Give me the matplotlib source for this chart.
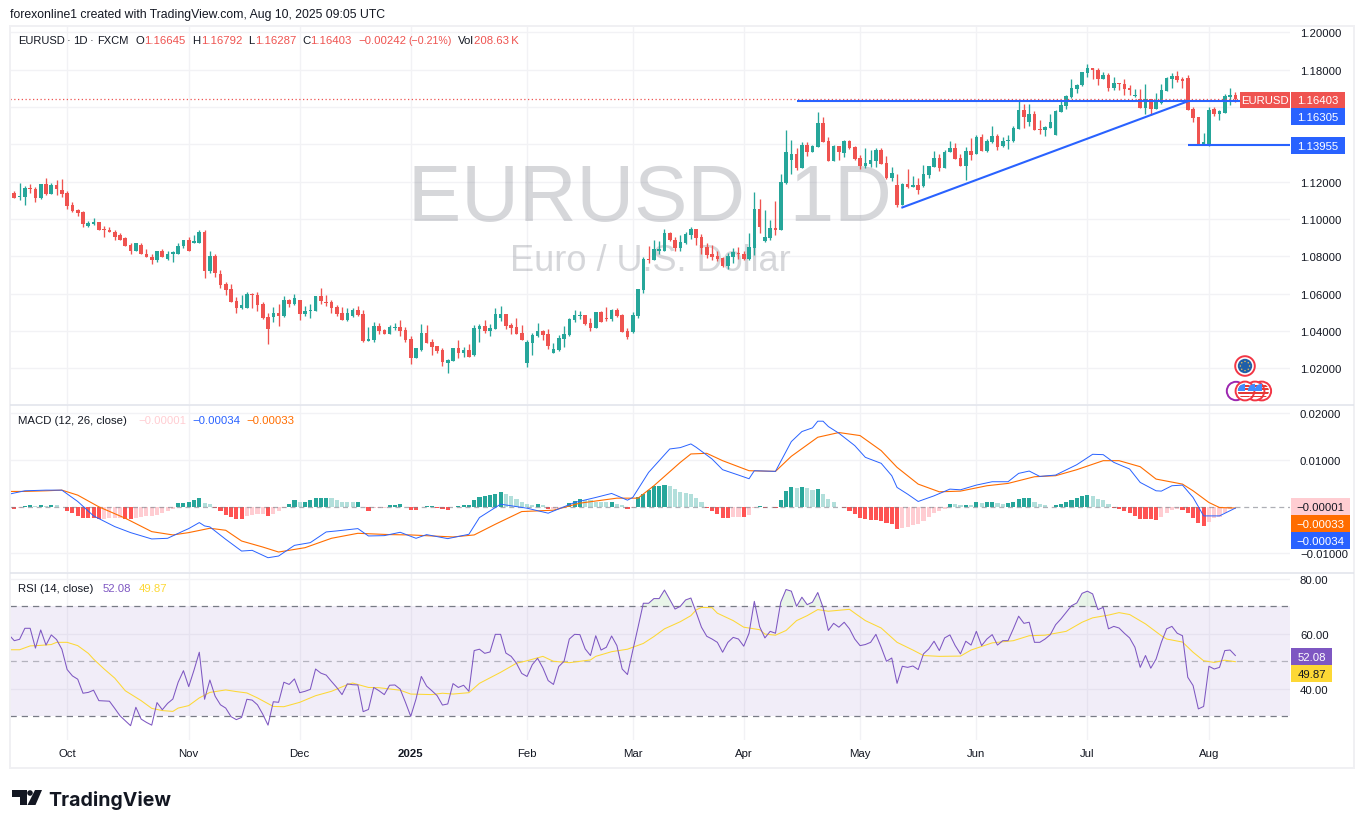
import numpy as np
import matplotlib
matplotlib.use("Agg")
import matplotlib.pyplot as plt
from matplotlib.patches import Rectangle, Circle, Polygon

# EURUSD daily, one value per bar
opens = [
 1.1075,1.1137,1.1116,1.1116,1.1164,1.1159,1.1111,1.1186,1.1132,1.1180,1.1154,1.1137,1.1073,1.1046,1.1035,1.0960,1.0971,1.0982,1.0944,1.0939,
 1.0933,1.0912,1.0896,1.0863,1.0826,1.0863,1.0815,1.0799,1.0778,1.0831,1.0788,1.0810,1.0815,1.0853,1.0885,1.0874,1.0874,1.0933,1.0724,1.0804,
 1.0708,1.0654,1.0627,1.0563,1.0525,1.0525,1.0600,1.0595,1.0547,1.0477,1.0477,1.0498,1.0482,1.0568,1.0547,1.0568,1.0493,1.0509,1.0509,1.0590,
 1.0557,1.0557,1.0531,1.0498,1.0461,1.0482,1.0514,1.0493,1.0348,1.0353,1.0429,1.0407,1.0386,1.0416,1.0423,1.0407,1.0359,1.0257,1.0300,1.0391,
 1.0343,1.0321,1.0300,1.0230,1.0241,1.0310,1.0284,1.0300,1.0273,1.0412,1.0429,1.0402,1.0412,1.0471,1.0493,1.0434,1.0423,1.0391,1.0230,1.0337,
 1.0375,1.0402,1.0386,1.0284,1.0300,1.0359,1.0380,1.0461,1.0482,1.0488,1.0445,1.0418,1.0504,1.0471,1.0466,1.0514,1.0488,1.0402,1.0396,1.0482,
 1.0622,1.0788,1.0783,1.0831,1.0831,1.0923,1.0890,1.0845,1.0872,1.0915,1.0947,1.0904,1.0850,1.0813,1.0802,1.0791,1.0748,1.0797,1.0818,1.0813,
 1.0786,1.0845,1.1054,1.0882,1.0898,1.0952,1.0941,1.1194,1.1317,1.1349,1.1274,1.1398,1.1360,1.1387,1.1516,1.1419,1.1312,1.1393,1.1355,1.1419,
 1.1387,1.1328,1.1285,1.1296,1.1312,1.1371,1.1301,1.1221,1.1183,1.1076,1.1188,1.1172,1.1183,1.1178,1.1237,1.1280,1.1328,1.1274,1.1360,1.1382,
 1.1328,1.1285,1.1366,1.1349,1.1441,1.1366,1.1414,1.1446,1.1393,1.1419,1.1419,1.1484,1.1583,1.1519,1.1562,1.1481,1.1476,1.1487,1.1449,1.1573,
 1.1605,1.1653,1.1696,1.1718,1.1782,1.1809,1.1798,1.1750,1.1771,1.1702,1.1728,1.1723,1.1702,1.1659,1.1642,1.1594,1.1642,1.1589,1.1621,1.1685,
 1.1750,1.1766,1.1750,1.1755,1.1589,1.1546,1.1395,1.1401,1.1589,1.1562,1.1567,1.1653,1.16645]
highs = [
 1.1137,1.1148,1.1191,1.1179,1.1186,1.1170,1.1186,1.1218,1.1191,1.1207,1.1213,1.1148,1.1089,1.1051,1.1041,1.0992,1.1003,1.0982,1.0960,1.0955,
 1.0939,1.0923,1.0906,1.0874,1.0874,1.0874,1.0842,1.0810,1.0831,1.0842,1.0831,1.0831,1.0874,1.0890,1.0906,1.0917,1.0939,1.0939,1.0826,1.0810,
 1.0729,1.0665,1.0654,1.0584,1.0595,1.0611,1.0606,1.0611,1.0557,1.0498,1.0531,1.0547,1.0590,1.0573,1.0600,1.0568,1.0536,1.0547,1.0590,1.0633,
 1.0595,1.0568,1.0541,1.0531,1.0525,1.0525,1.0536,1.0514,1.0423,1.0450,1.0445,1.0412,1.0434,1.0445,1.0461,1.0423,1.0375,1.0310,1.0439,1.0434,
 1.0359,1.0321,1.0310,1.0251,1.0310,1.0353,1.0316,1.0332,1.0434,1.0439,1.0461,1.0439,1.0525,1.0536,1.0493,1.0445,1.0471,1.0434,1.0353,1.0391,
 1.0445,1.0407,1.0412,1.0337,1.0380,1.0429,1.0471,1.0514,1.0509,1.0488,1.0471,1.0504,1.0509,1.0531,1.0520,1.0525,1.0493,1.0418,1.0504,1.0627,
 1.0799,1.0858,1.0890,1.0880,1.0949,1.0933,1.0901,1.0915,1.0931,1.0958,1.0947,1.0920,1.0872,1.0861,1.0829,1.0797,1.0818,1.0845,1.0850,1.0829,
 1.0925,1.1145,1.1108,1.1049,1.0995,1.1097,1.1242,1.1478,1.1425,1.1382,1.1414,1.1414,1.1398,1.1575,1.1548,1.1441,1.1398,1.1393,1.1425,1.1425,
 1.1393,1.1344,1.1382,1.1371,1.1382,1.1382,1.1339,1.1280,1.1242,1.1194,1.1269,1.1231,1.1221,1.1290,1.1285,1.1366,1.1349,1.1371,1.1419,1.1409,
 1.1349,1.1387,1.1435,1.1451,1.1457,1.1430,1.1500,1.1457,1.1441,1.1451,1.1500,1.1634,1.1616,1.1616,1.1578,1.1530,1.1498,1.1562,1.1583,1.1637,
 1.1664,1.1750,1.1723,1.1787,1.1830,1.1809,1.1809,1.1787,1.1782,1.1761,1.1728,1.1750,1.1718,1.1696,1.1696,1.1723,1.1642,1.1675,1.1723,1.1761,
 1.1782,1.1793,1.1761,1.1771,1.1600,1.1546,1.1460,1.1600,1.1600,1.1583,1.1669,1.1702,1.16792]
lows = [
 1.1075,1.1111,1.1102,1.1075,1.1137,1.1089,1.1105,1.1127,1.1132,1.1127,1.1116,1.1051,1.1035,1.1014,1.0955,1.0955,1.0966,1.0939,1.0901,1.0928,
 1.0890,1.0885,1.0858,1.0815,1.0826,1.0810,1.0794,1.0761,1.0772,1.0794,1.0783,1.0772,1.0810,1.0847,1.0831,1.0874,1.0874,1.0686,1.0713,1.0692,
 1.0633,1.0595,1.0557,1.0498,1.0520,1.0525,1.0525,1.0509,1.0466,1.0332,1.0450,1.0429,1.0477,1.0531,1.0541,1.0461,1.0482,1.0471,1.0509,1.0547,
 1.0536,1.0498,1.0482,1.0461,1.0455,1.0477,1.0482,1.0343,1.0348,1.0343,1.0386,1.0386,1.0386,1.0407,1.0375,1.0343,1.0224,1.0257,1.0294,1.0337,
 1.0273,1.0284,1.0214,1.0176,1.0241,1.0257,1.0262,1.0262,1.0267,1.0343,1.0391,1.0375,1.0412,1.0455,1.0412,1.0386,1.0386,1.0353,1.0208,1.0273,
 1.0369,1.0353,1.0305,1.0284,1.0294,1.0316,1.0375,1.0450,1.0466,1.0434,1.0402,1.0418,1.0450,1.0455,1.0455,1.0477,1.0396,1.0359,1.0391,1.0471,
 1.0606,1.0767,1.0783,1.0810,1.0831,1.0880,1.0826,1.0829,1.0866,1.0893,1.0861,1.0813,1.0791,1.0780,1.0775,1.0743,1.0732,1.0764,1.0786,1.0780,
 1.0780,1.0807,1.0925,1.0877,1.0888,1.0915,1.0941,1.1188,1.1242,1.1264,1.1274,1.1339,1.1360,1.1387,1.1414,1.1312,1.1312,1.1317,1.1333,1.1376,
 1.1317,1.1269,1.1274,1.1280,1.1280,1.1296,1.1215,1.1205,1.1065,1.1076,1.1167,1.1172,1.1135,1.1172,1.1221,1.1280,1.1258,1.1274,1.1360,1.1323,
 1.1285,1.1210,1.1317,1.1349,1.1366,1.1360,1.1409,1.1371,1.1387,1.1376,1.1414,1.1484,1.1487,1.1498,1.1476,1.1455,1.1444,1.1487,1.1449,1.1573,
 1.1589,1.1648,1.1675,1.1712,1.1761,1.1750,1.1718,1.1750,1.1685,1.1691,1.1691,1.1664,1.1664,1.1653,1.1594,1.1562,1.1557,1.1589,1.1616,1.1685,
 1.1702,1.1734,1.1702,1.1583,1.1519,1.1395,1.1395,1.1390,1.1551,1.1530,1.1567,1.1610,1.16287]
closes = [
 1.1137,1.1111,1.1121,1.1164,1.1159,1.1111,1.1186,1.1132,1.1180,1.1159,1.1132,1.1068,1.1041,1.1030,1.0971,1.0976,1.0982,1.0939,1.0939,1.0933,
 1.0906,1.0890,1.0858,1.0826,1.0869,1.0810,1.0794,1.0778,1.0831,1.0794,1.0815,1.0821,1.0858,1.0885,1.0831,1.0880,1.0933,1.0724,1.0804,1.0713,
 1.0649,1.0622,1.0557,1.0525,1.0541,1.0600,1.0595,1.0541,1.0471,1.0412,1.0498,1.0482,1.0568,1.0547,1.0579,1.0493,1.0509,1.0514,1.0590,1.0563,
 1.0552,1.0525,1.0493,1.0461,1.0498,1.0514,1.0488,1.0348,1.0359,1.0429,1.0402,1.0386,1.0423,1.0421,1.0402,1.0353,1.0257,1.0310,1.0391,1.0337,
 1.0316,1.0294,1.0235,1.0246,1.0310,1.0284,1.0300,1.0262,1.0418,1.0429,1.0402,1.0418,1.0493,1.0493,1.0429,1.0418,1.0386,1.0353,1.0343,1.0380,
 1.0402,1.0380,1.0321,1.0305,1.0364,1.0386,1.0466,1.0488,1.0488,1.0439,1.0418,1.0504,1.0450,1.0466,1.0514,1.0482,1.0396,1.0369,1.0488,1.0627,
 1.0788,1.0783,1.0837,1.0837,1.0923,1.0885,1.0847,1.0877,1.0920,1.0947,1.0898,1.0845,1.0807,1.0797,1.0786,1.0748,1.0802,1.0823,1.0813,1.0786,
 1.0850,1.1054,1.0958,1.0904,1.0952,1.0941,1.1199,1.1360,1.1349,1.1274,1.1398,1.1360,1.1393,1.1516,1.1414,1.1312,1.1393,1.1360,1.1419,1.1382,
 1.1323,1.1285,1.1301,1.1317,1.1371,1.1296,1.1221,1.1247,1.1076,1.1188,1.1172,1.1183,1.1156,1.1242,1.1285,1.1328,1.1274,1.1360,1.1382,1.1323,
 1.1285,1.1366,1.1344,1.1441,1.1366,1.1419,1.1446,1.1387,1.1419,1.1425,1.1489,1.1586,1.1546,1.1562,1.1476,1.1476,1.1492,1.1519,1.1578,1.1610,
 1.1659,1.1702,1.1718,1.1787,1.1809,1.1798,1.1750,1.1771,1.1702,1.1728,1.1723,1.1696,1.1691,1.1664,1.1594,1.1642,1.1589,1.1626,1.1691,1.1755,
 1.1766,1.1745,1.1739,1.1583,1.1540,1.1401,1.1412,1.1583,1.1562,1.1578,1.1659,1.1664,1.16403]

# MACD histogram in units of 0.00001, one per bar
macd_hist = [
 -40,-43,-29,14,22,14,29,14,29,22,-14,-86,-143,-201,-237,-251,-252,-272,-258,-244,
 -244,-243,-258,-259,-244,-215,-201,-200,-179,-129,-100,-57,72,86,87,129,172,72,57,-36,
 -100,-172,-229,-272,-273,-194,-172,-171,-170,-201,-158,-100,-36,57,129,100,101,129,172,186,
 187,179,129,100,99,98,105,-14,-100,-29,-28,-22,22,43,44,-7,-72,-73,-7,14,
 15,-22,-57,-72,-14,14,29,43,143,201,215,237,272,301,265,215,158,100,57,43,
 57,36,-58,-57,-43,-22,86,122,158,143,142,100,99,98,100,50,29,-57,-22,201,
 258,358,430,445,452,430,373,320,287,258,179,100,-29,-86,-158,-237,-238,-215,-214,-215,
 -172,-36,14,-22,-7,-29,143,323,416,394,416,394,358,373,272,158,100,-14,-36,-86,
 -158,-237,-272,-287,-288,-301,-344,-373,-480,-459,-445,-394,-373,-301,-215,-143,-86,-43,57,56,
 22,43,29,100,86,100,101,72,57,65,100,158,172,173,100,57,22,-14,22,57,
 100,143,172,215,237,229,158,129,57,-22,-57,-100,-143,-194,-265,-272,-273,-287,-215,-143,
 -72,-43,-72,-129,-237,-358,-416,-323,-251,-215,-143,-57,-1]

macd_idx = [0,3,7,10,13,16,20,23,27,30,33,34,36,37,38,41,44,46,49,51,54,57,60,62,66,68,71,74,77,79,83,87,89,93,98,102,107,111,114,117,118,121,125,127,
 129,130,133,135,138,140,141,145,148,150,152,153,154,155,157,160,162,165,167,168,170,172,175,178,180,183,186,189,191,193,195,198,202,205,207,209,212,214,217,218,220,222,224,226,229,232]
macd_line = [.00265,.00337,.00351,.00351,.00108,-.00201,-.00430,-.00559,-.00695,-.00681,-.00523,-.00473,-.00344,-.00416,-.00437,-.00703,-.00954,-.00939,-.01097,-.01061,
 -.00832,-.00774,-.00545,-.00523,-.00473,-.00631,-.00624,-.00552,-.00681,-.00602,-.00688,-.00595,-.00237,.00050,-.00036,-.00143,.00086,.00194,.00280,.00136,.00194,.00731,.01233,.01262,
 .01341,.01269,.01018,.00789,.00674,.00595,.00767,.00753,.01391,.01606,.01685,.01828,.01828,.01714,.01570,.01305,.01054,.00925,.00660,.00409,.00265,.00108,.00229,.00373,.00358,.00459,
 .00531,.00531,.00710,.00760,.00645,.00674,.00896,.01119,.01111,.00946,.00803,.00516,.00337,.00330,.00445,.00459,.00194,-.00201,-.00201,-.00034]

signal_idx = [0,3,7,10,13,17,22,27,31,34,38,41,44,48,51,56,61,66,72,76,84,88,92,97,103,108,115,119,122,127,
 129,132,135,140,145,148,153,157,161,165,168,172,176,180,185,189,194,198,202,207,210,214,217,222,224,227,229,232]
signal_line = [.00323,.00323,.00337,.00351,.00244,-.00007,-.00251,-.00538,-.00609,-.00559,-.00466,-.00509,-.00739,-.00868,-.00975,-.00882,-.00681,-.00574,-.00602,-.00609,
 -.00652,-.00609,-.00380,-.00108,-.00079,.00072,.00179,.00179,.00445,.00946,
 .01126,.01140,.00982,.00767,.00753,.01076,.01484,.01585,.01520,.01197,.00839,.00480,.00315,.00330,.00445,.00495,.00638,.00660,.00789,.00982,.00982,.00853,.00588,.00480,.00337,.00086,-.00022,-.00033]

# RSI, one per bar
rsi = [
 59.6,57.5,58.0,62.0,62.0,54.8,61.4,55.9,59.6,57.9,54.4,47.0,44.7,43.5,38.4,38.7,39.5,35.7,35.6,35.5,
 32.9,30.2,28.4,26.6,33.3,29.0,27.8,26.8,35.0,32.4,34.7,36.3,42.4,46.6,40.8,46.8,53.3,36.2,43.2,37.3,
 34.2,33.0,29.9,28.8,29.6,36.2,35.9,34.2,30.8,26.8,35.3,35.1,42.4,41.6,43.6,38.6,39.1,39.8,47.2,45.7,
 45.0,42.7,40.5,37.9,41.8,41.5,41.4,31.7,32.5,40.5,39.3,37.9,41.3,41.4,39.9,35.1,30.0,36.3,44.5,41.0,
 39.3,37.5,34.1,34.5,41.9,40.5,41.3,39.1,53.9,54.4,52.9,53.4,59.8,59.8,53.0,51.8,49.3,45.6,44.5,48.8,
 51.1,47.6,43.0,41.6,48.1,50.0,58.1,59.8,59.7,54.5,52.1,59.3,54.1,55.1,59.2,55.7,47.2,45.2,53.9,62.4,
 71.1,71.1,72.8,72.8,75.9,72.5,69.0,70.0,72.3,73.0,67.8,62.4,59.1,58.1,56.9,53.3,56.9,58.7,58.1,55.5,
 60.2,71.8,62.6,58.5,60.9,60.2,71.5,76.1,75.5,70.0,73.3,70.6,71.5,75.0,69.6,61.2,63.8,62.4,64.2,61.8,
 58.1,55.7,56.1,56.9,59.8,55.1,50.0,51.2,42.0,48.2,47.8,48.3,47.0,52.7,54.5,57.3,53.9,58.5,59.6,55.7,
 52.7,57.3,55.9,60.9,55.7,58.1,59.7,55.9,57.5,57.5,61.8,66.4,63.8,64.2,56.9,56.9,58.1,59.7,63.3,65.4,
 67.8,70.2,71.2,74.7,75.5,74.5,68.8,69.6,61.8,62.7,62.1,60.2,58.5,55.1,47.8,52.1,47.5,50.8,56.9,61.8,
 62.7,60.2,59.3,44.2,41.2,32.7,33.6,48.2,47.2,47.8,53.9,54.1,52.1]

rsi_ma_idx = [0,2,4,6,8,9,11,13,15,16,18,20,22,25,27,29,31,32,34,36,38,41,43,45,47,50,52,55,58,61,64,65,68,70,74,76,80,82,84,87,89,93,96,98,101,103,106,110,111,114,117,120,122,124,127,
 129,130,131,133,134,137,139,142,143,145,147,149,151,153,155,159,160,162,165,168,171,173,176,180,182,186,190,193,196,200,203,205,208,210,212,215,218,219,222,224,226,228,230,232]
rsi_ma = [54.2,54.2,55.6,55.8,56.1,56.9,56.9,55.7,52.9,50.8,47.2,43.9,39.3,35.7,32.9,32.1,31.8,33.0,33.9,36.7,38.7,39.6,39.0,38.5,36.7,33.6,33.5,35.1,37.5,39.1,41.5,42.1,40.5,40.4,39.5,38.1,37.9,38.4,38.1,38.6,42.0,46.0,49.3,50.2,51.8,50.0,49.5,50.5,51.8,53.5,54.4,56.5,59.0,61.8,64.4,
 66.6,68.7,69.6,69.5,67.5,64.8,62.4,61.5,59.9,59.5,61.2,64.8,66.6,68.8,68.2,68.9,67.5,64.8,62.1,56.9,54.1,52.1,51.8,51.9,54.1,56.7,57.5,59.3,59.5,60.9,64.2,65.8,66.8,67.7,67.0,63.6,59.3,58.1,57.0,53.3,50.2,49.6,50.4,49.87]

month_idx = [11,34,55,76,98,118,139,161,183,204,227]
month_labels = ['Oct','Nov','Dec','2025','Feb','Mar','Apr','May','Jun','Jul','Aug']
price_ticks = [1.02,1.04,1.06,1.08,1.10,1.12,1.14,1.16,1.18,1.20]
# the price tags sit on top of these two in the original
price_tick_labels = ['1.02000','1.04000','1.06000','1.08000','1.10000','1.12000','','','1.18000','1.20000']
macd_ticks = [-0.01,0.01,0.02]
rsi_ticks = [40,60,80]

# drawn levels
level_upper = 1.16305
level_lower = 1.13955
level_upper_start = 149
level_lower_start = 223
trend_bars = [169,223]
trend_prices = [1.1062,1.16305]
last_price = 1.16403

W, H = 1364, 829
GREEN = '#26a69a'
RED = '#ef5350'
BLUE = '#2962ff'
ORANGE = '#ff6d00'
PURPLE = '#7e57c2'
YELLOW = '#fdd835'
GRID = '#f2f2f5'
DARK = '#131722'
plt.rcParams['font.family'] = ['Liberation Sans', 'DejaVu Sans']

fig = plt.figure(figsize=(W/100, H/100), dpi=100, facecolor='white')

def pane(left, top, right, bottom):
    ax = fig.add_axes([left/W, 1-bottom/H, (right-left)/W, (bottom-top)/H])
    for s in ax.spines.values():
        s.set_visible(False)
    ax.set_xlim((left-9.0)/5.286, (right-9.0)/5.286)
    ax.yaxis.tick_right()
    ax.tick_params(axis='y', length=0, labelsize=8.2, labelcolor=DARK, pad=7.2)
    ax.set_xticks(month_idx)
    ax.tick_params(axis='x', length=0, labelbottom=False)
    ax.grid(True, color=GRID, lw=1)
    ax.set_axisbelow(True)
    return ax

ax_p = pane(10, 27, 1290, 405)
ax_m = pane(10, 406, 1290, 573)
ax_r = pane(10, 574, 1290, 741)

# price pane
bars = np.arange(len(closes))
o = np.array(opens); h = np.array(highs); l = np.array(lows); c = np.array(closes)
colors = np.where(c >= o, GREEN, RED)
ax_p.set_ylim(1.0009, 1.2034)
ax_p.set_yticks(price_ticks)
ax_p.set_yticklabels(price_tick_labels)
wm_x = (650-9.0)/5.286
ax_p.text(wm_x, 1.0995, 'EURUSD  1D', fontsize=57.5, color='#787b86', alpha=0.3, ha='center', va='baseline', zorder=1.5)
ax_p.text(wm_x, 1.0727, 'Euro / U.S. Dollar', fontsize=26, color='#787b86', alpha=0.3, ha='center', va='baseline', zorder=1.5)
ax_p.vlines(bars, l, h, colors=colors, lw=0.95, zorder=3)
ax_p.bar(bars, c-o, bottom=o, width=0.68, color=colors, zorder=3.1, linewidth=0)
ax_p.hlines(last_price, ax_p.get_xlim()[0], (1240-9)/5.286, colors=RED, lw=0.9, linestyles=(0, (1, 2)), zorder=3.2)
ax_p.hlines(level_upper, level_upper_start, ax_p.get_xlim()[1], colors=BLUE, lw=1.5, zorder=3.3)
ax_p.hlines(level_lower, level_lower_start, ax_p.get_xlim()[1], colors=BLUE, lw=1.5, zorder=3.3)
ax_p.plot(trend_bars, trend_prices, color=BLUE, lw=1.5, zorder=3.3)

# MACD pane
hist = np.array(macd_hist)*1e-5
hist_colors = []
for i, v in enumerate(hist):
    prev = hist[i-1] if i else v
    if v >= 0:
        hist_colors.append('#26a69a' if v >= prev else '#b2dfdb')
    else:
        hist_colors.append('#ff5252' if v < prev else '#ffcdd2')
ax_m.set_ylim(-0.01403, 0.02175)
ax_m.set_yticks(macd_ticks)
ax_m.set_yticklabels(['\u22120.01000', '0.01000', '0.02000'])
ax_m.bar(bars, hist, width=0.78, color=hist_colors, linewidth=0, zorder=2)
ax_m.axhline(0, color='#787b86', lw=0.9, alpha=0.6, ls=(0, (4, 3)), zorder=2.5)
ax_m.plot(signal_idx, signal_line, color=ORANGE, lw=0.8, zorder=3)
ax_m.plot(macd_idx, macd_line, color=BLUE, lw=0.7, zorder=3.1)

# RSI pane
rsi_arr = np.array(rsi)
ax_r.set_ylim(21.4, 82.1)
ax_r.set_yticks(rsi_ticks)
ax_r.set_yticklabels(['%.2f' % t for t in rsi_ticks])
ax_r.axhspan(30, 70, color=PURPLE, alpha=0.1, lw=0, zorder=1)
ax_r.axhline(70, color='#787b86', lw=0.9, ls=(0, (5, 4)), zorder=2)
ax_r.axhline(30, color='#787b86', lw=0.9, ls=(0, (5, 4)), zorder=2)
ax_r.axhline(50, color='#787b86', lw=0.9, alpha=0.5, ls=(0, (5, 4)), zorder=2)
ax_r.fill_between(bars, 70, rsi_arr, where=rsi_arr > 70, interpolate=True, color='#4caf50', alpha=0.12, lw=0, zorder=1.5)
ax_r.plot(rsi_ma_idx, rsi_ma, color=YELLOW, lw=0.75, zorder=3)
ax_r.plot(bars, rsi_arr, color=PURPLE, lw=0.75, zorder=3.1)
ax_r.tick_params(axis='x', labelbottom=True, labelsize=8.2, labelcolor=DARK, pad=6)
ax_r.set_xticklabels(month_labels)
for t in ax_r.get_xticklabels():
    if t.get_text() == '2025':
        t.set_fontweight('bold')

# overlay in pixels for frame, tags, legends and logo
ov = fig.add_axes([0, 0, 1, 1], zorder=10)
ov.set_xlim(0, W)
ov.set_ylim(H, 0)
ov.axis('off')
ov.patch.set_alpha(0)

ov.add_patch(Rectangle((10, 27), 1344, 742, fill=False, ec='#f0f0f3', lw=1.4))
ov.hlines([405.5, 573.5], 10, 1354, colors='#e0e3eb', lw=1.1)

def tag(x0, x1, y0, y1, text, fc, tc='white', ha='center'):
    ov.add_patch(Rectangle((x0, y0), x1-x0, y1-y0, fc=fc, ec='none'))
    ov.text((x0+x1)/2, (y0+y1)/2+0.3, text, color=tc, fontsize=8.2, ha=ha, va='center')

tag(1240, 1290, 93, 109, 'EURUSD', RED)
tag(1291, 1345, 93, 109, '1.16403', RED)
tag(1291, 1345, 109, 126, '1.16305', BLUE)
tag(1291, 1345, 138, 155, '1.13955', BLUE)
tag(1291, 1350, 499, 516, '\u22120.00001', '#ffcdd2', DARK)
tag(1291, 1350, 516, 533, '\u22120.00033', ORANGE)
tag(1291, 1350, 533, 550, '\u22120.00034', BLUE)
tag(1291, 1332, 649, 666, '52.08', PURPLE)
tag(1291, 1332, 666, 683, '49.87', YELLOW, DARK)

def label(x, y, s, color=DARK, size=8.2):
    ov.text(x, y, s, color=color, fontsize=size, ha='left', va='center')

label(10, 15, 'forexonline1 created with TradingView.com, Aug 10, 2025 09:05 UTC', size=8.8)
label(18, 41, 'EURUSD', size=8); label(67, 41, '\u00b7'); label(73, 41, '1D'); label(90, 41, '\u00b7'); label(97.5, 41, 'FXCM', size=8)
label(135, 41, 'O'); label(144.5, 41, '1.16645', RED)
label(192, 41, 'H'); label(201, 41, '1.16792', RED)
label(248, 41, 'L'); label(255, 41, '1.16287', RED)
label(302, 41, 'C'); label(310, 41, '1.16403', RED)
label(358, 41, '\u22120.00242', RED)
label(408, 41, '(\u22120.21%)', RED, size=7.7)
label(458, 41, 'Vol'); label(474.5, 41, '208.63\u2009K', RED)
label(18, 421, 'MACD (12, 26, close)')
label(138, 421, '\u22120.00001', '#ffcdd2')
label(192.5, 421, '\u22120.00034', BLUE)
label(246, 421, '\u22120.00033', ORANGE)
label(18, 589, 'RSI (14, close)')
label(103, 589, '52.08', PURPLE)
label(139, 589, '49.87', YELLOW)

# event icons
def flag_us(cx, cy, edge='#f23645'):
    ring = Circle((cx, cy), 9.4, fc='white', ec=edge, lw=1.4, zorder=5)
    ov.add_patch(ring)
    clip = Circle((cx, cy), 7.2, transform=ov.transData)
    for k in range(-3, 4, 2):
        st = Rectangle((cx-8, cy+k*1.8-0.9), 16, 1.8, fc='#e53935', ec='none', zorder=5.1)
        ov.add_patch(st)
        st.set_clip_path(clip)
    blue = Rectangle((cx-8, cy-8), 8, 7.5, fc='#3f8cff', ec='none', zorder=5.2)
    ov.add_patch(blue)
    blue.set_clip_path(clip)

ov.add_patch(Circle((1236, 392), 9.2, fc='white', ec='#9c27b0', lw=1.4, zorder=4))
flag_us(1261.7, 392)
flag_us(1255, 392)
flag_us(1245, 392)
ov.add_patch(Circle((1245, 367), 9.8, fc='white', ec='#f23645', lw=1.4, zorder=5))
ov.add_patch(Circle((1245, 367), 7.2, fc='#1f5fa8', ec='none', zorder=5.1))
for a in np.arange(0, 360, 45):
    ov.add_patch(Circle((1245+4.6*np.cos(np.radians(a)), 367+4.6*np.sin(np.radians(a))), 0.7, fc='#f9c74f', ec='none', zorder=5.2))

# TradingView logo
ov.add_patch(Polygon([(12.3, 791), (26.7, 791), (26.7, 806), (19.5, 806), (19.5, 798), (12.3, 798)], fc=DARK, ec='none'))
ov.add_patch(Circle((30, 794), 2.8, fc=DARK, ec='none'))
ov.add_patch(Polygon([(35, 791), (42, 791), (35.5, 806), (27.5, 806)], fc=DARK, ec='none'))
ov.text(48.5, 806, 'TradingView', color=DARK, fontsize=14.05, fontweight='bold', family=['Inter', 'Liberation Sans'], ha='left', va='baseline')

fig.savefig('out.png', dpi=100, facecolor='white')
